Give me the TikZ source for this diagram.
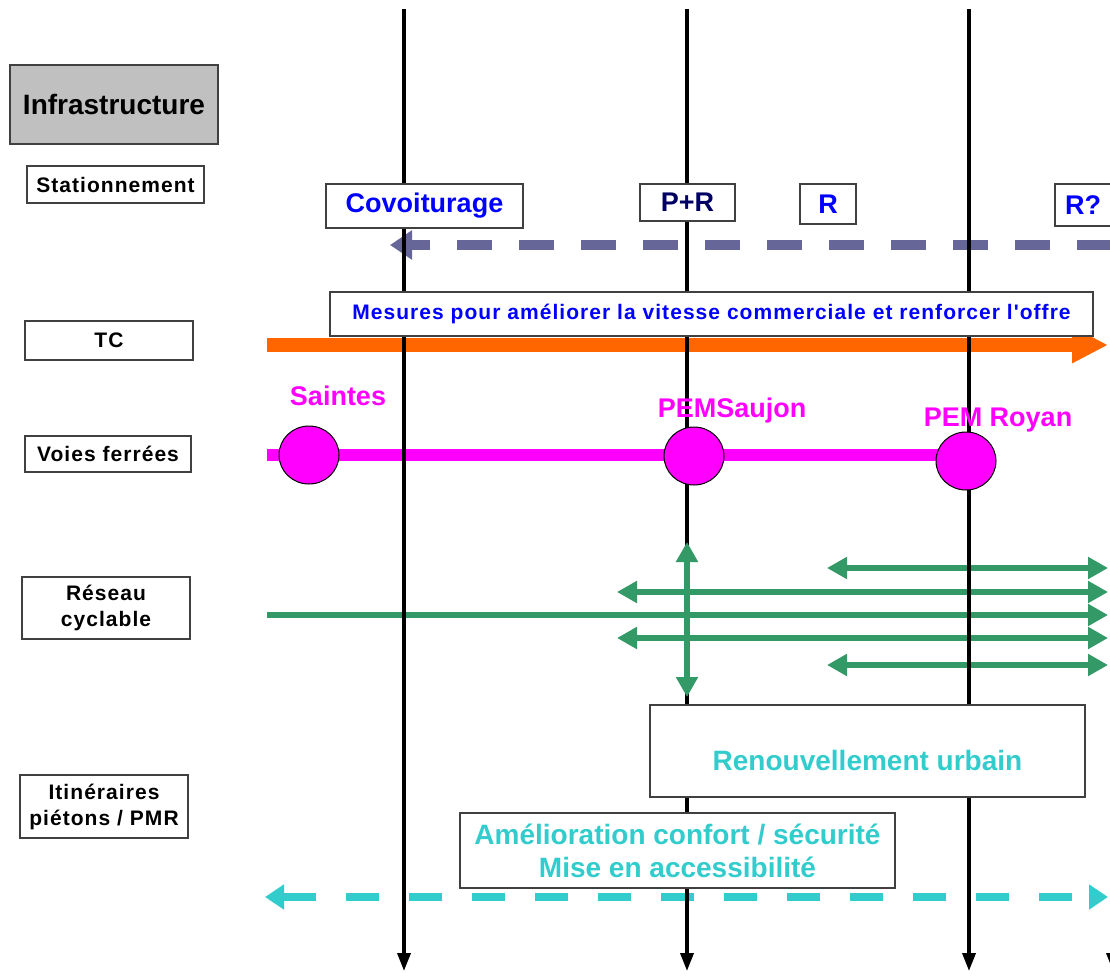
\documentclass[tikz,border=0pt]{standalone}
\usepackage{fontspec}
\setmainfont{Liberation Sans}
\newfontfamily\spacedsans[LetterSpace=5]{Liberation Sans}
\usetikzlibrary{arrows.meta,shapes.geometric,positioning}

\definecolor{infragray}{HTML}{C0C0C0}
\definecolor{slate}{HTML}{666699}
\definecolor{tcorange}{HTML}{FF6600}
\definecolor{rail}{HTML}{FF00FF}
\definecolor{cycl}{HTML}{339966}
\definecolor{pieton}{HTML}{33CCCC}
\definecolor{navytxt}{RGB}{0,0,100}

\begin{document}
\begin{tikzpicture}[x=1pt,y=-1pt,
  rowlabel/.style={draw=black!75,line width=1.2pt,fill=white,font=\spacedsans\bfseries\fontsize{21}{26}\selectfont,align=center,inner sep=0pt},
  tag/.style={draw=black!75,line width=1.2pt,fill=white,font=\bfseries\fontsize{27}{30}\selectfont,inner sep=0pt},
  axis/.style={line width=3.5pt,-{Triangle[length=18pt,width=13pt]}},
  station/.style={ellipse,draw=black,line width=1pt,fill=rail,minimum width=60pt,minimum height=58pt,inner sep=0pt},
  stationname/.style={text=rail,font=\bfseries\fontsize{27}{30}\selectfont},
  bikeline/.style={draw=cycl,line width=6.5pt},
  bike/.style={bikeline,{Triangle[length=20pt,width=21pt]}-{Triangle[length=20pt,width=21pt]}},
  walk/.style={text=pieton,font=\bfseries\fontsize{28}{33}\selectfont,align=center}]
\useasboundingbox[fill=white] (0,0) rectangle (1110,976);

\coordinate (tc_w) at (267,345);
\coordinate (tc_e) at (1108,345);
\coordinate (stat_e) at (1112,245);
\coordinate (stat_w) at (390,245);
\coordinate (rail_w) at (267,455);
\coordinate (rail_e) at (966,455);
\coordinate (pmr_w) at (265,897);
\coordinate (pmr_e) at (1108,897);

\draw[tcorange,line width=14pt,-{Triangle[length=36pt,width=34pt]}] (tc_w) -- (tc_e);
\draw[slate,line width=10pt,dash pattern=on 35pt off 27pt,-{Triangle[length=22pt,width=28pt]}] (stat_e) -- (stat_w);
\draw[rail,line width=12pt] (rail_w) -- (rail_e);

\coordinate (v1_w) at (827,568);  \coordinate (v1_e) at (1108,568);
\coordinate (v2_w) at (617,592);  \coordinate (v2_e) at (1108,592);
\coordinate (v3_w) at (267,615);  \coordinate (v3_e) at (1108,615);
\coordinate (v4_w) at (617,638);  \coordinate (v4_e) at (1108,638);
\coordinate (v5_w) at (827,665);  \coordinate (v5_e) at (1108,665);
\draw[bike] (v1_w) -- (v1_e);
\draw[bike] (v2_w) -- (v2_e);
\draw[bikeline,-{Triangle[length=20pt,width=21pt]}] (v3_w) -- (v3_e);
\draw[bike] (v4_w) -- (v4_e);
\draw[bike] (v5_w) -- (v5_e);

\draw[pieton,line width=8.5pt,dash pattern=on 33pt off 30pt,{Triangle[length=19pt,width=24pt]}-{Triangle[length=19pt,width=24pt]}] (pmr_w) -- (pmr_e);

\coordinate (ax_1t) at (404,9);   \coordinate (ax_1b) at (404,971);
\coordinate (ax_2t) at (687,9);   \coordinate (ax_2b) at (687,971);
\coordinate (ax_3t) at (969,9);   \coordinate (ax_3b) at (969,971);
\coordinate (ax_4t) at (1113,9);  \coordinate (ax_4b) at (1113,971);
\draw[axis] (ax_1t) -- (ax_1b);
\draw[axis] (ax_2t) -- (ax_2b);
\draw[axis] (ax_3t) -- (ax_3b);
\draw[axis] (ax_4t) -- (ax_4b);

\node[station] (sta_saintes) at (309,455) {};
\node[station] (sta_saujon) at (694,456) {};
\node[station] (sta_royan) at (966,461) {};
\node[stationname] (nm_saintes) at (338,396) {Saintes};
\node[stationname] (nm_saujon) at (732,411) {PEMSaujon};
\node[stationname] (nm_royan) at (998,420) {PEM Royan};

\coordinate (vb_t) at (687,542);
\coordinate (vb_b) at (687,697);
\draw[bike] (vb_b) -- (vb_t);

\node[rowlabel,fill=infragray,minimum width=208pt,minimum height=79pt,font=\bfseries\fontsize{28}{30}\selectfont] (lab_infra) at (114,104.5) {Infrastructure};
\node[rowlabel,minimum width=177pt,minimum height=37pt] (lab_stat) at (115.5,184.5) {Stationnement};
\node[rowlabel,minimum width=168pt,minimum height=39pt] (lab_tc) at (109,340.5) {TC};
\node[rowlabel,minimum width=166pt,minimum height=36pt] (lab_voies) at (108,454) {Voies ferrées};
\node[rowlabel,minimum width=168pt,minimum height=62pt] (lab_velo) at (106,608) {Réseau\\cyclable};
\node[rowlabel,minimum width=168pt,minimum height=63pt] (lab_pmr) at (104,806.5) {Itinéraires\\piétons / PMR};

\node[tag,text=blue,minimum width=197pt,minimum height=44pt] (tag_covoit) at (424.5,206) {Covoiturage};
\node[tag,text=navytxt,minimum width=95pt,minimum height=37pt] (tag_pr) at (687.5,202.5) {P+R};
\node[tag,text=blue,minimum width=56pt,minimum height=40pt] (tag_r) at (828,204) {R};
\node[tag,text=blue,minimum width=56pt,minimum height=42pt] (tag_rq) at (1083,205) {R?};

\node[tag,text=blue,minimum width=763pt,minimum height=44pt,font=\spacedsans\bfseries\fontsize{21}{22}\selectfont] (box_tc) at (711.5,314) {Mesures pour améliorer la vitesse commerciale et renforcer l'offre};

\node[tag,minimum width=435pt,minimum height=92pt] (box_renov) at (867.5,751) {};
\node[walk] (txt_renov) at ([yshift=-9pt]box_renov.center) {Renouvellement urbain};
\node[tag,minimum width=435pt,minimum height=75pt] (box_amelio) at (677.5,850.5) {};
\node[walk] (txt_amelio) at (box_amelio.center) {Amélioration confort / sécurité\\Mise en accessibilité};
\end{tikzpicture}
\end{document}
